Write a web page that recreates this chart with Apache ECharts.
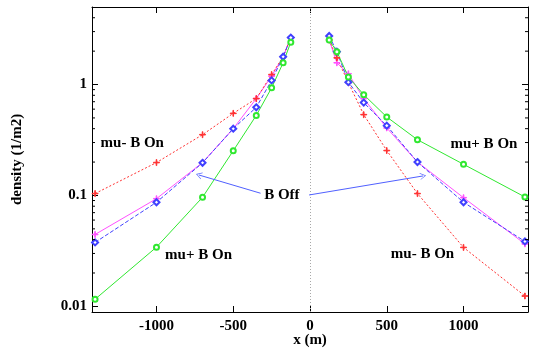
<!DOCTYPE html>
<html>
<head>
<meta charset="utf-8">
<title>density vs x</title>
<script src="https://cdn.jsdelivr.net/npm/echarts@6/dist/echarts.min.js"></script>
<style>
    html, body { margin: 0; padding: 0; background: #fff; }
    #main { width: 550px; height: 350px; }
</style>
</head>
<body>
<div id="main"></div>
<script>
// distances (m), left and right of the shower axis
var xLeft = [-1400, -1000, -700, -500, -350, -250, -175, -125];
var xRight = [125, 175, 250, 350, 500, 700, 1000, 1400];

// densities (1/m2)
var muMinusOnLeft = [0.104, 0.198, 0.353, 0.55, 0.747, 1.23, 1.78, 2.65];
var muMinusOnRight = [2.52, 1.74, 1.04, 0.535, 0.254, 0.104, 0.034, 0.0124];
var muPlusOnLeft = [0.0116, 0.0342, 0.0963, 0.253, 0.527, 0.934, 1.57, 2.41];
var muPlusOnRight = [2.52, 1.98, 1.17, 0.81, 0.51, 0.318, 0.191, 0.0969];
var bOffBlueLeft = [0.0377, 0.0868, 0.197, 0.40, 0.623, 1.09, 1.78, 2.65];
var bOffBlueRight = [2.74, 1.98, 1.05, 0.687, 0.426, 0.20, 0.0868, 0.0385];
var bOffPinkLeft = [0.0445, 0.0935, 0.198, 0.40, 0.747, 1.19, 1.78, 2.65];
var bOffPinkRight = [2.52, 1.57, 1.25, 0.747, 0.406, 0.20, 0.0955, 0.0366];

// axis ranges and minor log ticks
var xRange = [-1420, 1420];
var yRange = [0.0089, 5];
var yMinorTicks = [0.02, 0.03, 0.04, 0.05, 0.06, 0.07, 0.08, 0.09,
    0.2, 0.3, 0.4, 0.5, 0.6, 0.7, 0.8, 0.9, 2, 3, 4];

// text annotations [x, y, text]
var notes = [
    [-1158, 0.297, 'mu- B On'],
    [1133, 0.292, 'mu+ B On'],
    [-183, 0.101, 'B Off'],
    [-726, 0.029, 'mu+ B On'],
    [733, 0.0294, 'mu- B On']
];
// B Off arrows [from, to]
var arrows = [
    [[-322, 0.1047], [-724, 0.153]],
    [[-6, 0.101], [737, 0.150]]
];

var font = 'Liberation Serif';
var plus = 'path://M4.5,0h1v4.5h4.5v1h-4.5v4.5h-1v-4.5h-4.5v-1h4.5z';
var chevron = 'path://M5,0L10,10L9,10L5,2L1,10L0,10Z';

function pairs(xs, ys) {
    return xs.map(function (x, i) { return [x, ys[i]]; });
}

function makeLine(name, xs, ys, color, dash, symbol, size) {
    return {
        name: name,
        type: 'line',
        data: pairs(xs, ys),
        symbol: symbol,
        symbolSize: size,
        showAllSymbol: true,
        lineStyle: { color: color, width: 1, type: dash },
        itemStyle: { color: color, borderColor: color, borderWidth: 1 },
        z: 3
    };
}

function logLabel(v) {
    var l = Math.log10(v);
    if (Math.abs(l - Math.round(l)) > 1e-6) return '';
    return String(+v.toPrecision(1));
}

var red = '#ff3030', green = '#30e830', blue = '#4040ff', pink = '#ff50ff';

var series = [
    makeLine('mu- B Off', xLeft, bOffPinkLeft, pink, 'solid', plus, 6),
    makeLine('mu- B Off', xRight, bOffPinkRight, pink, 'solid', plus, 6),
    makeLine('mu- B On', xLeft, muMinusOnLeft, red, [2, 2], plus, 6),
    makeLine('mu- B On', xRight, muMinusOnRight, red, [2, 2], plus, 6),
    makeLine('mu+ B Off', xLeft, bOffBlueLeft, blue, [4, 2], 'emptyDiamond', 6),
    makeLine('mu+ B Off', xRight, bOffBlueRight, blue, [4, 2], 'emptyDiamond', 6),
    makeLine('mu+ B On', xLeft, muPlusOnLeft, green, 'solid', 'emptyCircle', 5),
    makeLine('mu+ B On', xRight, muPlusOnRight, green, 'solid', 'emptyCircle', 5)
];

// zero axis, annotations and arrows
series.push({
    type: 'line',
    data: [],
    silent: true,
    markLine: {
        silent: true,
        symbol: ['none', 'none'],
        label: { show: false },
        lineStyle: { color: '#a8a8a8', type: [1, 2], width: 1 },
        data: [{ xAxis: 0 }]
    }
});
series.push({
    type: 'line',
    data: [],
    silent: true,
    markLine: {
        silent: true,
        symbol: ['none', chevron],
        symbolSize: [7, 6],
        label: { show: false },
        lineStyle: { color: '#5060ff', type: 'solid', width: 1 },
        data: arrows.map(function (a) {
            return [{ coord: a[0] }, { coord: a[1] }];
        })
    },
    markPoint: {
        silent: true,
        symbol: 'circle',
        symbolSize: 0,
        label: {
            show: true,
            position: 'inside',
            color: '#000',
            fontFamily: font,
            fontWeight: 'bold',
            fontSize: 15
        },
        data: notes.map(function (n) {
            return { coord: [n[0], n[1]], value: n[2], label: { formatter: n[2] } };
        })
    }
});

// minor ticks on left and right borders
series.push({
    type: 'custom',
    silent: true,
    data: yMinorTicks.map(function (v) { return [xRange[0], v]; }),
    renderItem: function (params, api) {
        var y = api.value(1);
        var a = api.coord([xRange[0], y]);
        var b = api.coord([xRange[1], y]);
        var st = { stroke: '#000', lineWidth: 1 };
        return {
            type: 'group',
            children: [
                { type: 'line', shape: { x1: a[0], y1: a[1], x2: a[0] + 3, y2: a[1] }, style: st },
                { type: 'line', shape: { x1: b[0] - 3, y1: b[1], x2: b[0], y2: b[1] }, style: st }
            ]
        };
    },
    z: 5
});

var axisText = { fontFamily: font, fontWeight: 'bold', fontSize: 15, color: '#000' };
var border = { show: true, onZero: false, lineStyle: { color: '#000', width: 1 } };
var tick = { show: true, inside: true, length: 6, lineStyle: { color: '#000' } };

var myChart = echarts.init(document.getElementById('main'));
var option = {
    animation: false,
    backgroundColor: '#fff',
    grid: { left: 92, right: 22, top: 7, bottom: 38, containLabel: false, outerBoundsMode: 'none' },
    xAxis: [{
        type: 'value',
        min: xRange[0],
        max: xRange[1],
        splitNumber: 5,
        name: 'x (m)',
        nameLocation: 'middle',
        nameGap: 21,
        nameMoveOverlap: false,
        nameTextStyle: axisText,
        axisLine: border,
        axisTick: tick,
        axisLabel: Object.assign({
            margin: 7,
            showMinLabel: false,
            showMaxLabel: false,
            formatter: function (v) { return v % 500 === 0 ? String(v) : ''; }
        }, axisText),
        splitLine: { show: false }
    }, {
        type: 'value',
        position: 'top',
        min: xRange[0],
        max: xRange[1],
        splitNumber: 5,
        axisLine: border,
        axisTick: tick,
        axisLabel: { show: false },
        splitLine: { show: false }
    }],
    yAxis: [{
        type: 'log',
        logBase: 10,
        min: yRange[0],
        max: yRange[1],
        name: 'density (1/m2)',
        nameLocation: 'middle',
        nameGap: 67,
        nameMoveOverlap: false,
        nameRotate: 90,
        nameTextStyle: axisText,
        axisLine: border,
        axisTick: tick,
        axisLabel: Object.assign({
            margin: 5,
            showMinLabel: false,
            showMaxLabel: false,
            formatter: logLabel
        }, axisText),
        splitLine: { show: false }
    }, {
        type: 'log',
        logBase: 10,
        position: 'right',
        min: yRange[0],
        max: yRange[1],
        axisLine: border,
        axisTick: tick,
        axisLabel: { show: false },
        splitLine: { show: false }
    }],
    series: series
};
myChart.setOption(option);
</script>
</body>
</html>
